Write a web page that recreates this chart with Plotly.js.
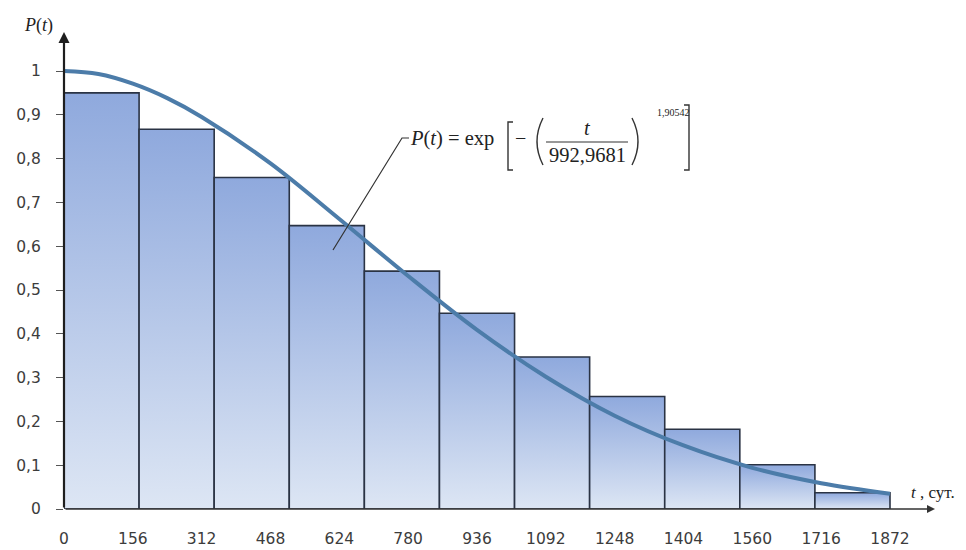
<!DOCTYPE html>
<html>
<head>
<meta charset="utf-8">
<script src="https://cdn.plot.ly/plotly-3.0.1.min.js"></script>
<style>html,body{margin:0;padding:0;background:#fff;}#chart{width:966px;height:550px;}</style>
</head>
<body>
<div id="chart"></div>
<script>
// ---- data ----
const barHeights = [0.95, 0.867, 0.757, 0.647, 0.543, 0.447, 0.347, 0.257, 0.182, 0.101, 0.037];
const xTickVals = [0, 156, 312, 468, 624, 780, 936, 1092, 1248, 1404, 1560, 1716, 1872];
const xTickText = ["0","156","312","468","624","780","936","1092","1248","1404","1560","1716","1872"];
const yTickVals = [0, 0.1, 0.2, 0.3, 0.4, 0.5, 0.6, 0.7, 0.8, 0.9, 1];
const yTickText = ["0","0,1","0,2","0,3","0,4","0,5","0,6","0,7","0,8","0,9","1"];
const curveT = [0, 78, 156, 234, 312, 468, 624, 780, 936, 1092, 1248, 1404, 1560, 1716, 1872];
const curveP = [1.0, 0.993, 0.971, 0.938, 0.895, 0.789, 0.662, 0.532, 0.409, 0.302, 0.213, 0.145, 0.094, 0.059, 0.035];

// ---- layout geometry ----
const W = 966, H = 550;
const L = 64, R = 935, T = 32, B = 509;
const tLast = xTickVals[xTickVals.length - 1];
const xMax = tLast * (R - L) / (890 - L);
const yMax = (B - T) / (B - 71);
const nBars = barHeights.length;
const barAxisMax = nBars * xMax / tLast;

function px(xp) { return (xp - L) / (R - L); }
function py(yp) { return (B - yp) / (B - T); }

const traces = [];
for (let i = 0; i < nBars; i++) {
  const h = barHeights[i];
  traces.push({
    type: 'scatter', mode: 'lines', xaxis: 'x', yaxis: 'y',
    x: [i, i, i + 1, i + 1, i], y: [0, h, h, 0, 0],
    fill: 'toself',
    fillgradient: {type: 'vertical', colorscale: [[0, '#dde6f4'], [1, '#8fa9dd']]},
    line: {color: '#2a3344', width: 1.6},
    hoverinfo: 'skip', showlegend: false
  });
}
traces.push({
  type: 'scatter', mode: 'lines', xaxis: 'x2', yaxis: 'y', x: curveT, y: curveP,
  line: {color: '#4c7ca9', width: 4, shape: 'spline', smoothing: 1.0},
  hoverinfo: 'skip', showlegend: false
});

const serif = 'Liberation Serif, Times New Roman, serif';
const tickFont = {family: 'DejaVu Sans, Verdana, sans-serif', size: 15.5, color: '#3c3c3c'};

function pathPx(points) {
  return points.map((p, k) => (k === 0 ? 'M' : 'L') + px(p[0]).toFixed(5) + ',' + py(p[1]).toFixed(5)).join(' ');
}
function parenPx(x0, xc, yTop, yBot) {
  const ym = (yTop + yBot) / 2;
  return 'M' + px(x0).toFixed(5) + ',' + py(yTop).toFixed(5) + ' Q' + px(xc).toFixed(5) + ',' + py(ym).toFixed(5) + ' ' + px(x0).toFixed(5) + ',' + py(yBot).toFixed(5);
}

const shapes = [
  {type: 'path', xref: 'paper', yref: 'paper', path: pathPx([[333, 250], [402, 138], [409, 138]]), line: {color: '#333', width: 1.2}},
  {type: 'path', xref: 'paper', yref: 'paper', path: pathPx([[513, 122], [508, 122], [508, 170], [513, 170]]), line: {color: '#333', width: 1.4}},
  {type: 'path', xref: 'paper', yref: 'paper', path: pathPx([[684, 105], [689, 105], [689, 170], [684, 170]]), line: {color: '#333', width: 1.4}},
  {type: 'path', xref: 'paper', yref: 'paper', path: parenPx(543, 531, 118, 165), line: {color: '#333', width: 1.4}},
  {type: 'path', xref: 'paper', yref: 'paper', path: parenPx(632, 644, 118, 165), line: {color: '#333', width: 1.4}},
  {type: 'line', xref: 'paper', yref: 'paper', x0: px(546), x1: px(628), y0: py(142), y1: py(142), line: {color: '#333', width: 1.2}}
];

function txt(text, xp, yp, size, anchor) {
  return {text: text, xref: 'paper', yref: 'paper', x: px(xp), y: py(yp), showarrow: false,
    xanchor: anchor || 'center', yanchor: 'middle', font: {family: serif, size: size, color: '#222'}};
}

const annotations = [
  // axis arrows
  {x: 0, y: yMax, ax: 0, ay: 0, xref: 'x2', yref: 'y', axref: 'x2', ayref: 'y', text: '', showarrow: true,
    arrowhead: 2, arrowsize: 1, arrowwidth: 2.2, arrowcolor: '#1e1e1e'},
  {x: xMax, y: 0, ax: 0, ay: 0, xref: 'x2', yref: 'y', axref: 'x2', ayref: 'y', text: '', showarrow: true,
    arrowhead: 2, arrowsize: 1, arrowwidth: 1.6, arrowcolor: '#333'},
  // axis titles
  txt('<i>P</i>(<i>t</i>)', 38, 25, 18),
  txt('<i>t</i> , сут.', 909, 492, 17, 'left'),
  // formula
  txt('<i>P</i>(<i>t</i>) = exp', 408, 138, 20.5, 'left'),
  txt('−', 520, 138, 20),
  txt('<i>t</i>', 587, 128, 20.5),
  txt('992,9681', 587, 155, 20.5),
  txt('1,90542', 673, 112, 10)
];

const layout = {
  width: W, height: H,
  margin: {l: L, r: W - R, t: T, b: H - B, pad: 0},
  paper_bgcolor: '#ffffff', plot_bgcolor: '#ffffff',
  showlegend: false, hovermode: false,
  xaxis: {range: [0, barAxisMax], visible: false, fixedrange: true},
  xaxis2: {range: [0, xMax], overlaying: 'x', side: 'bottom', anchor: 'y', tickvals: xTickVals, ticktext: xTickText,
    ticks: '', showgrid: false, zeroline: false, showline: false, tickfont: tickFont, ticklabelstandoff: 18, fixedrange: true},
  yaxis: {range: [0, yMax], tickvals: yTickVals, ticktext: yTickText, ticks: 'outside', ticklen: 7,
    tickcolor: '#555', tickwidth: 1, showgrid: false, zeroline: false, showline: false,
    tickfont: tickFont, ticklabelstandoff: 12, fixedrange: true},
  shapes: shapes,
  annotations: annotations
};

Plotly.newPlot('chart', traces, layout, {staticPlot: true, displayModeBar: false});
</script>
</body>
</html>
